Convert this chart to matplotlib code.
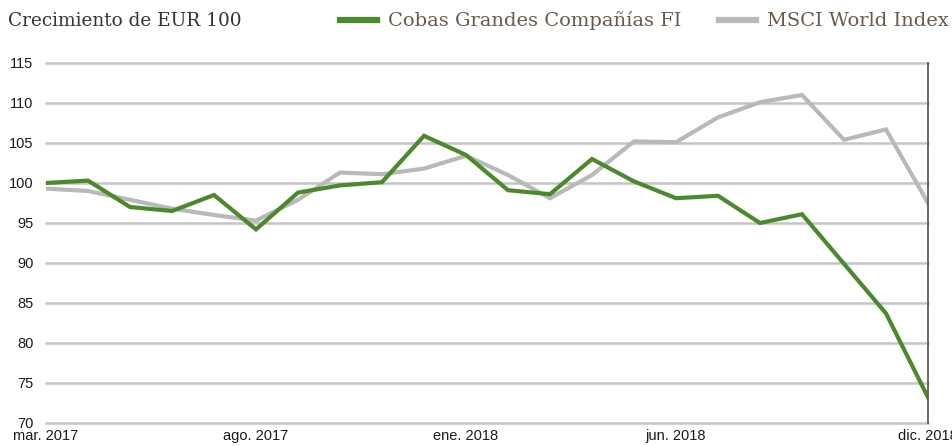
import matplotlib.pyplot as plt

months = list(range(22))
tick_pos = [0, 5, 10, 15, 21]
tick_labels = ["mar. 2017", "ago. 2017", "ene. 2018", "jun. 2018", "dic. 2018"]

cobas = [100.0, 100.3, 97.0, 96.5, 98.5, 94.2, 98.8, 99.7, 100.1, 105.9, 103.5,
         99.1, 98.6, 103.0, 100.2, 98.1, 98.4, 95.0, 96.1, 89.9, 83.7, 73.2]
msci = [99.3, 99.0, 97.9, 96.8, 96.0, 95.3, 97.9, 101.3, 101.1, 101.8, 103.4,
        101.0, 98.1, 101.0, 105.2, 105.1, 108.2, 110.1, 111.0, 105.4, 106.7, 97.5]

green = "#4b8a2c"
grey = "#b9b9b9"
brown = "#6b5948"

fig = plt.figure(figsize=(9.53, 4.46), dpi=100)
ax = fig.add_axes([46 / 953, 23 / 446, 882 / 953, 360 / 446])

ax.plot(months, msci, color=grey, lw=3, solid_joinstyle="miter",
        label="MSCI World Index", zorder=3)
ax.plot(months, cobas, color=green, lw=3, solid_joinstyle="miter",
        label="Cobas Grandes Compañías FI", zorder=4)

ax.set_xlim(0, 21)
ax.set_ylim(70, 115)
ax.set_yticks(range(70, 116, 5))
ax.set_xticks(tick_pos)
ax.set_xticklabels(tick_labels)
ax.yaxis.grid(True, color="#c4c4c4", lw=1.8)
for g in ax.get_ygridlines():
    g.set_clip_on(False)
ax.set_axisbelow(True)

for s in ["left", "top", "bottom"]:
    ax.spines[s].set_visible(False)
ax.spines["right"].set_color(brown)
ax.spines["right"].set_linewidth(1.3)
ax.spines["right"].set_zorder(5)

ax.tick_params(axis="both", length=0, labelsize=10.5, colors="#1a1a1a",
               labelfontfamily="Liberation Sans")
ax.tick_params(axis="y", pad=9)
ax.tick_params(axis="x", pad=4)

fig.text(8 / 953, 1 - 21 / 446, "Crecimiento de EUR 100", family="DejaVu Serif",
         fontsize=13.3, color="#333333", va="center", ha="left")

h, l = ax.get_legend_handles_labels()
leg = fig.legend(h[::-1], l[::-1], ncol=2, loc="center right",
                 bbox_to_anchor=(1.0, 1 - 21 / 446), frameon=False,
                 prop={"family": "DejaVu Serif", "size": 14},
                 handlelength=1.9, handletextpad=0.6, columnspacing=1.9,
                 borderaxespad=0.0, borderpad=0.2)
for t in leg.get_texts():
    t.set_color(brown)
for ln in leg.get_lines():
    ln.set_linewidth(4.5)

fig.savefig("out.png", dpi=100)
